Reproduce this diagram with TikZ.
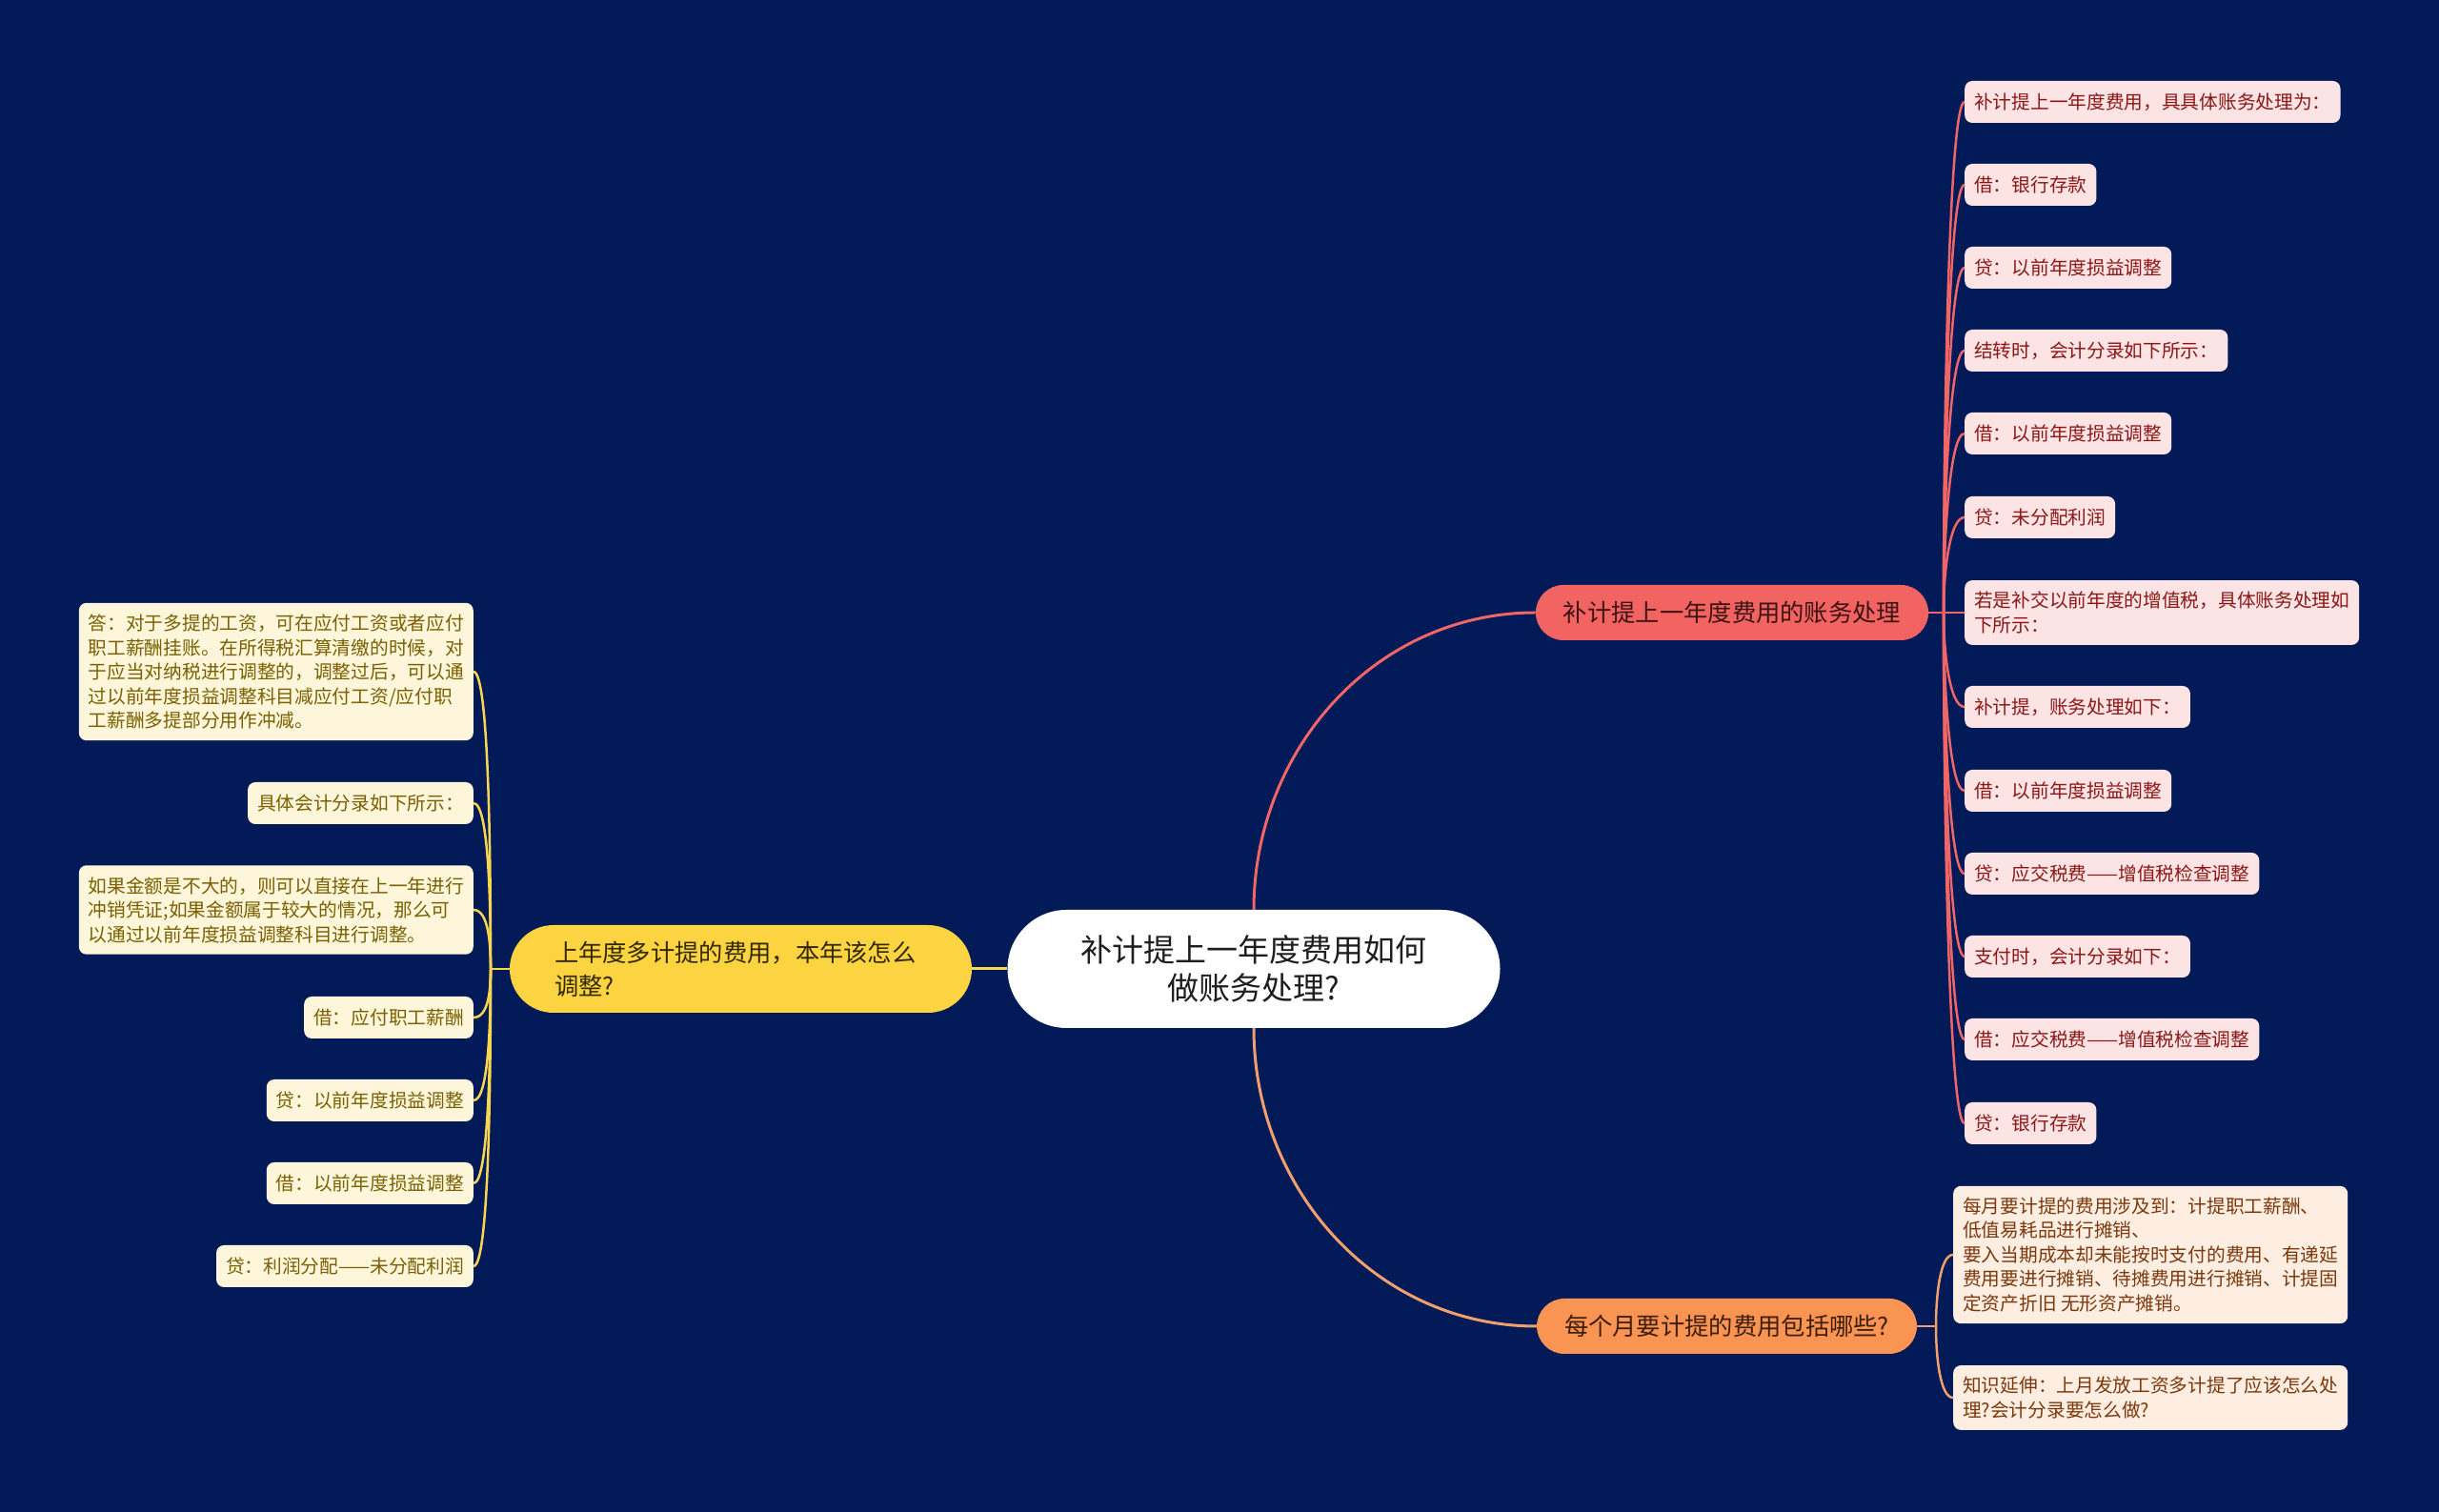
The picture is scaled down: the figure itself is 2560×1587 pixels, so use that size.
\documentclass[tikz,border=0pt]{standalone}
\usepackage{fontspec}
\setmainfont{Noto Sans CJK SC}
\usepackage{xcolor}

\definecolor{bgnavy}{RGB}{2,26,88}
\definecolor{rootink}{RGB}{30,30,30}
\definecolor{redfill}{RGB}{242,100,98}
\definecolor{redink}{RGB}{60,18,18}
\definecolor{redleaffill}{RGB}{253,228,228}
\definecolor{redleafink}{RGB}{140,22,22}
\definecolor{redlinec}{RGB}{240,102,102}
\definecolor{orangefill}{RGB}{249,148,82}
\definecolor{orangeink}{RGB}{60,30,10}
\definecolor{orangeleaffill}{RGB}{254,238,226}
\definecolor{orangeleafink}{RGB}{122,56,12}
\definecolor{orangelinec}{RGB}{240,160,108}
\definecolor{yellowfill}{RGB}{252,212,66}
\definecolor{yellowink}{RGB}{50,40,0}
\definecolor{yellowleaffill}{RGB}{254,246,218}
\definecolor{yellowleafink}{RGB}{122,96,0}
\definecolor{yellowlinec}{RGB}{248,214,80}

\begin{document}
\begin{tikzpicture}[x=1pt,y=1pt]
        % 스타일 정의
        \tikzset{rootbox/.style={fill=white, text=rootink, rounded corners=62pt, minimum width=517pt, minimum height=124pt, align=center, font=\fontsize{33}{40}\selectfont}}
        \tikzset{branchbox/.style={rounded corners=29pt, minimum height=58pt, inner xsep=29pt, font=\fontsize{25.3}{35}\selectfont}}
        \tikzset{leafbox/.style={rounded corners=8pt, minimum height=44pt, inner xsep=10pt, inner ysep=12pt, align=left, font=\fontsize{19.7}{25.5}\selectfont}}
        \tikzset{redleaf/.style={leafbox, fill=redleaffill, text=redleafink, anchor=west}}
        \tikzset{orangeleaf/.style={leafbox, fill=orangeleaffill, text=orangeleafink, anchor=west}}
        \tikzset{yellowleaf/.style={leafbox, fill=yellowleaffill, text=yellowleafink, anchor=east}}
        \tikzset{redlink/.style={draw=redlinec, line width=2.5pt}}
        \tikzset{orangelink/.style={draw=orangelinec, line width=2.5pt}}
        \tikzset{yellowlink/.style={draw=yellowlinec, line width=2.5pt}}

        % 1. 바탕
        \fill[bgnavy] (0,0) rectangle (2560,1587);

        % 2. 중심과 가지
        \node[rootbox] (root) at (1316,570) {补计提上一年度费用如何\\做账务处理?};
        \node[branchbox, fill=yellowfill, text=yellowink, rounded corners=46pt, minimum height=92pt, inner xsep=47pt, text width=391pt, align=left] (ymain) at (777.5,570) {上年度多计提的费用，本年该怎么\\调整?};
        \node[branchbox, fill=redfill, text=redink] (rmain) at (1818,944) {补计提上一年度费用的账务处理};
        \node[branchbox, fill=orangefill, text=orangeink] (omain) at (1812.5,195) {每个月要计提的费用包括哪些?};

        % 3. 오른쪽 위 잎
        \node[redleaf] (r1) at (2062,1480) {补计提上一年度费用，具具体账务处理为：};
        \node[redleaf] (r2) at (2062,1393) {借：银行存款};
        \node[redleaf] (r3) at (2062,1306) {贷：以前年度损益调整};
        \node[redleaf] (r4) at (2062,1219) {结转时，会计分录如下所示：};
        \node[redleaf] (r5) at (2062,1132) {借：以前年度损益调整};
        \node[redleaf] (r6) at (2062,1044) {贷：未分配利润};
        \node[redleaf] (r7) at (2062,944) {若是补交以前年度的增值税，具体账务处理如\\下所示：};
        \node[redleaf] (r8) at (2062,845) {补计提，账务处理如下：};
        \node[redleaf] (r9) at (2062,757) {借：以前年度损益调整};
        \node[redleaf] (r10) at (2062,670) {贷：应交税费——增值税检查调整};
        \node[redleaf] (r11) at (2062,583) {支付时，会计分录如下：};
        \node[redleaf] (r12) at (2062,496) {借：应交税费——增值税检查调整};
        \node[redleaf] (r13) at (2062,408) {贷：银行存款};

        % 4. 오른쪽 아래 잎
        \node[orangeleaf] (o1) at (2050,270) {每月要计提的费用涉及到：计提职工薪酬、\\低值易耗品进行摊销、\\要入当期成本却未能按时支付的费用、有递延\\费用要进行摊销、待摊费用进行摊销、计提固\\定资产折旧 无形资产摊销。};
        \node[orangeleaf] (o2) at (2050,120) {知识延伸：上月发放工资多计提了应该怎么处\\理?会计分录要怎么做?};

        % 5. 왼쪽 잎
        \node[yellowleaf] (ya) at (497,882) {答：对于多提的工资，可在应付工资或者应付\\职工薪酬挂账。在所得税汇算清缴的时候，对\\于应当对纳税进行调整的，调整过后，可以通\\过以前年度损益调整科目减应付工资/应付职\\工薪酬多提部分用作冲减。};
        \node[yellowleaf] (yb) at (497,744) {具体会计分录如下所示：};
        \node[yellowleaf] (yc) at (497,632) {如果金额是不大的，则可以直接在上一年进行\\冲销凭证;如果金额属于较大的情况，那么可\\以通过以前年度损益调整科目进行调整。};
        \node[yellowleaf] (yd) at (497,519) {借：应付职工薪酬};
        \node[yellowleaf] (ye) at (497,432) {贷：以前年度损益调整};
        \node[yellowleaf] (yf) at (497,345) {借：以前年度损益调整};
        \node[yellowleaf] (yg) at (497,258) {贷：利润分配——未分配利润};

        % 6. 연결선
        \draw[redlink, line width=3pt] (root.north) to[out=90,in=180] (rmain.west);
        \draw[orangelink, line width=3pt] (root.south) to[out=-90,in=180] (omain.west);
        \draw[yellowlink, line width=3pt] (ymain.east) -- (root.west);

        \coordinate (rfork) at (2040,944);
        \draw[redlink] (rmain.east) -- (rfork) -- (r7.west);
        \draw[redlink] (rfork) to[out=90,in=180,in distance=16pt] (r1.west);
        \draw[redlink] (rfork) to[out=90,in=180,in distance=16pt] (r2.west);
        \draw[redlink] (rfork) to[out=90,in=180,in distance=16pt] (r3.west);
        \draw[redlink] (rfork) to[out=90,in=180,in distance=16pt] (r4.west);
        \draw[redlink] (rfork) to[out=90,in=180,in distance=16pt] (r5.west);
        \draw[redlink] (rfork) to[out=90,in=180,in distance=16pt] (r6.west);
        \draw[redlink] (rfork) to[out=-90,in=180,in distance=16pt] (r8.west);
        \draw[redlink] (rfork) to[out=-90,in=180,in distance=16pt] (r9.west);
        \draw[redlink] (rfork) to[out=-90,in=180,in distance=16pt] (r10.west);
        \draw[redlink] (rfork) to[out=-90,in=180,in distance=16pt] (r11.west);
        \draw[redlink] (rfork) to[out=-90,in=180,in distance=16pt] (r12.west);
        \draw[redlink] (rfork) to[out=-90,in=180,in distance=16pt] (r13.west);

        \coordinate (ofork) at (2032,195);
        \draw[orangelink] (omain.east) -- (ofork);
        \draw[orangelink] (ofork) to[out=90,in=180,in distance=14pt] (o1.west);
        \draw[orangelink] (ofork) to[out=-90,in=180,in distance=14pt] (o2.west);

        \coordinate (yfork) at (515,570);
        \draw[yellowlink] (ymain.west) -- (yfork);
        \draw[yellowlink] (yfork) to[out=90,in=0,in distance=16pt] (ya.east);
        \draw[yellowlink] (yfork) to[out=90,in=0,in distance=16pt] (yb.east);
        \draw[yellowlink] (yfork) to[out=90,in=0,in distance=16pt] (yc.east);
        \draw[yellowlink] (yfork) to[out=-90,in=0,in distance=16pt] (yd.east);
        \draw[yellowlink] (yfork) to[out=-90,in=0,in distance=16pt] (ye.east);
        \draw[yellowlink] (yfork) to[out=-90,in=0,in distance=16pt] (yf.east);
        \draw[yellowlink] (yfork) to[out=-90,in=0,in distance=16pt] (yg.east);
    \end{tikzpicture}
\end{document}
